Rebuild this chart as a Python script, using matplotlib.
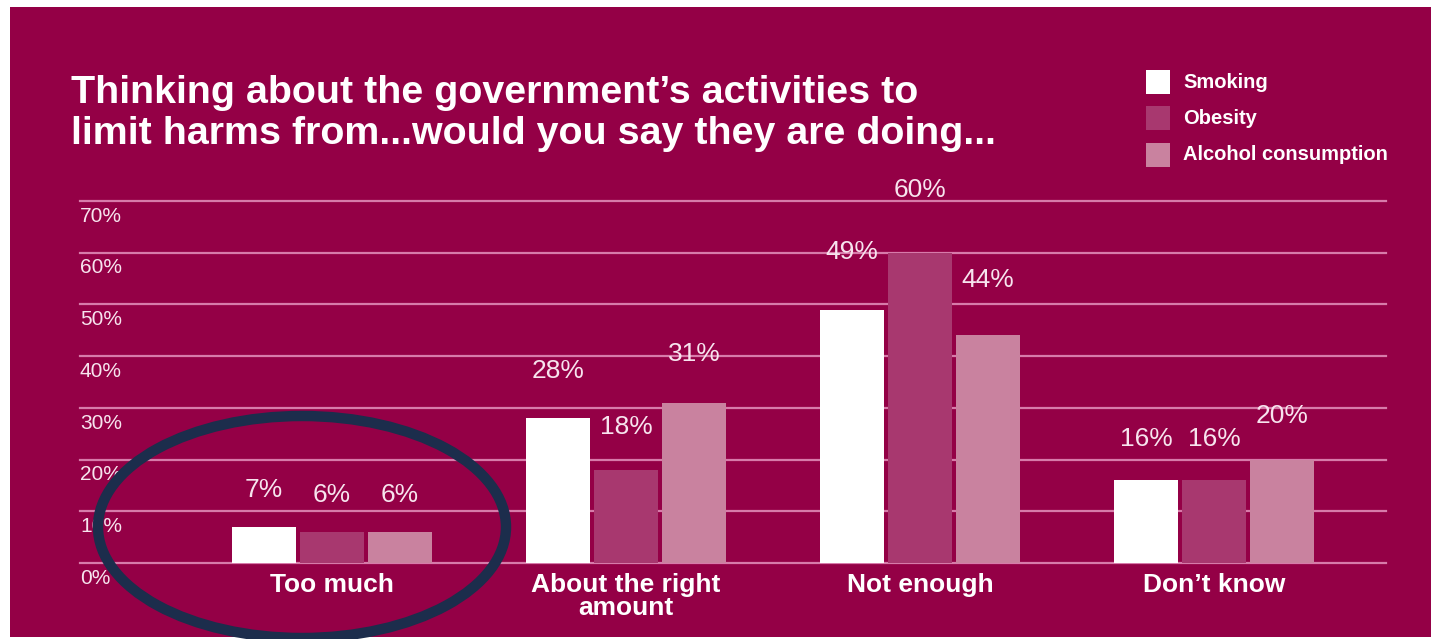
import numpy as np
import matplotlib
matplotlib.use("Agg")
import matplotlib.pyplot as plt
from matplotlib.patches import Rectangle, Ellipse

# data
categories = ["Too much", "About the right\namount", "Not enough", "Don\u2019t know"]
series = ["Smoking", "Obesity", "Alcohol consumption"]
smoking = [7, 28, 49, 16]
obesity = [6, 18, 60, 16]
alcohol = [6, 31, 44, 20]
yticks = [0, 10, 20, 30, 40, 50, 60, 70]

bg = "#940046"
colors = ["#FFFFFF", "#A8386F", "#C9829F"]
grid_col = "#D77BAA"
txt_col = "#F7E4EE"

plt.rcParams['font.family'] = ['Liberation Sans', 'DejaVu Sans']

fig = plt.figure(figsize=(14.31, 6.39), dpi=100)
fig.patch.set_facecolor("white")
# crimson panel with thin white border top / left
fig.patches.append(Rectangle((10 / 1431, 2 / 639), 1 - 10 / 1431, 1 - 9 / 639,
                             transform=fig.transFigure, facecolor=bg,
                             edgecolor="none", zorder=-5))

ax = fig.add_axes([80 / 1431, 76 / 639, 1306 / 1431, 362 / 639])
ax.set_facecolor("none")
ax.set_zorder(1)
for s in ax.spines.values():
    s.set_visible(False)

x = np.arange(len(categories))
w = 0.218
step = 0.231
for k, (vals, col) in enumerate(zip([smoking, obesity, alcohol], colors)):
    pos = x + (k - 1) * step
    ax.bar(pos, vals, width=w, color=col, zorder=2)
    for p, v in zip(pos, vals):
        ax.text(p, v * 1.095 + 6.5, f"{v}%", ha="center", va="center",
                fontsize=19, color=txt_col, zorder=3, clip_on=False)

for t in yticks:
    ax.axhline(t, color=grid_col, lw=1.6, zorder=1, clip_on=False)
    ax.annotate(f"{t}%", xy=(0, t), xycoords=("axes fraction", "data"),
                xytext=(0, -11), textcoords="offset points",
                ha="left", va="center", fontsize=15, color=txt_col)

for i, c in enumerate(categories):
    ax.annotate(c, xy=(i, 0), xycoords="data", xytext=(0, -7),
                textcoords="offset points", ha="center", va="top",
                fontsize=19, fontweight="bold", color="white", linespacing=0.95)

ax.set_xlim(-0.857, 3.585)
ax.set_ylim(0, 70)
ax.set_xticks([])
ax.set_yticks([])

# title
fig.text(71 / 1431, 1 - 75 / 639,
         "Thinking about the government\u2019s activities to\nlimit harms from...would you say they are doing...",
         ha="left", va="top", fontsize=28.4, fontweight="bold", color="white",
         linespacing=1.17)

# legend
for k, (name, col) in enumerate(zip(series, colors)):
    yc = 82 + k * 36.5
    fig.patches.append(Rectangle((1146 / 1431, 1 - (yc + 12) / 639), 24 / 1431, 24 / 639,
                                 transform=fig.transFigure, facecolor=col,
                                 edgecolor="none", zorder=2))
    fig.text(1183 / 1431, 1 - yc / 639, name, ha="left", va="center",
             fontsize=14.5, fontweight="bold", color="white")

# highlight ellipse around "Too much"
fig.patches.append(Ellipse((302 / 1431, 1 - 527 / 639), 408 / 1431, 222 / 639,
                           transform=fig.transFigure, fill=False,
                           edgecolor="#1C2D4C", lw=7.5, zorder=5))

fig.savefig("out.png", dpi=100, facecolor=fig.get_facecolor())
